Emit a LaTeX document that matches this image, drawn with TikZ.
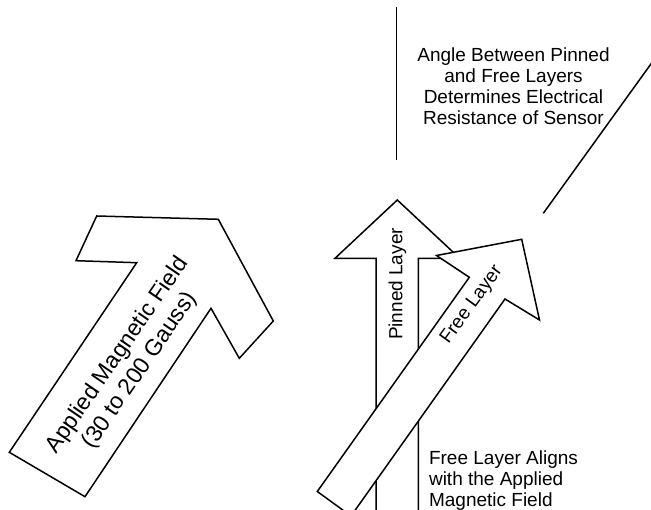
\documentclass[tikz,border=0pt]{standalone}
\usepackage{fontspec}
\setmainfont{Liberation Sans}
\begin{document}
\begin{tikzpicture}[x=1pt, y=-1pt, line width=1.5pt,
        layer/.style={draw=black, fill=white},
        note/.style={inner sep=0pt, font=\fontsize{19}{21}\selectfont},
        fieldnote/.style={inner sep=0pt, align=center, font=\fontsize{23}{27}\selectfont}]
            \useasboundingbox (0,0) rectangle (651,510);
            \clip (0,0) rectangle (651,510);

            % applied field
            \draw[layer] (9.3,452.3) -- (136.7,262.7) -- (76,260.7) -- (96.7,216) -- (218.3,219.3)
                -- (273.3,321) -- (239.3,358.3) -- (211,308.3) -- (85,496.7) -- cycle;
            \node[fieldnote, rotate=55.5](field) at (129,363) {Applied Magnetic Field\\(30 to 200 Gauss)};

            % pinned layer
            \draw[layer] (376,515) -- (376,258.3) -- (335,258.3) -- (397.3,200) -- (459.7,258.3)
                -- (418.3,258.3) -- (418.3,515) -- cycle;
            \node[note, rotate=90](pinned) at (397.5,284) {Pinned Layer};

            % free layer
            \draw[layer] (469.3,277.3) -- (436.5,255.5) -- (521.7,239.3) -- (539.5,320)
                -- (505,299) -- (351,516) -- (317.3,491.5) -- cycle;
            \node[note, rotate=54](free) at (472,305) {Free Layer};

            % angle lines
            \coordinate (pinnedaxis1) at (396.7,7.5);
            \coordinate (pinnedaxis2) at (396.7,160);
            \coordinate (freeaxis1) at (543.3,213.3);
            \coordinate (freeaxis2) at (652,62.5);
            \draw[-] (pinnedaxis1) to (pinnedaxis2);
            \draw[-] (freeaxis1) to (freeaxis2);

            \node[note, align=center, anchor=north](angle) at (513.5,47) {Angle Between Pinned\\and Free Layers\\Determines Electrical\\Resistance of Sensor};
            \node[note, align=left, anchor=north west](aligns) at (428.3,449.5) {Free Layer Aligns\\with the Applied\\Magnetic Field};
\end{tikzpicture}
\end{document}
